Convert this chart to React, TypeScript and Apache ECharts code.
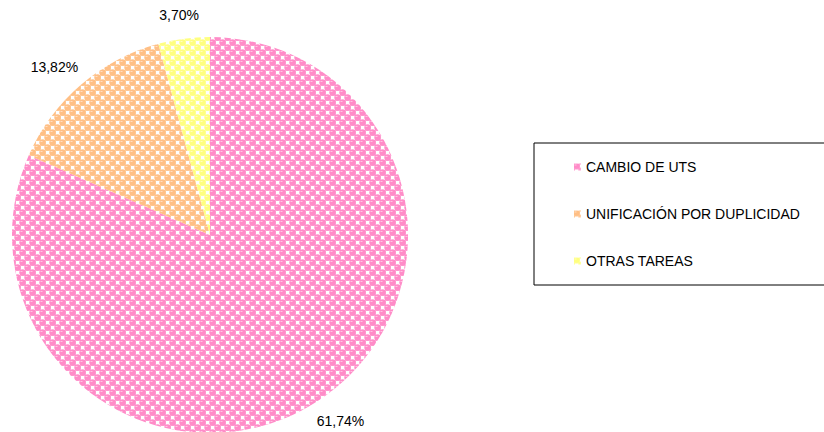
import React, { useEffect, useRef } from "react";
import * as echarts from "echarts";

const categories = ["CAMBIO DE UTS", "UNIFICACIÓN POR DUPLICIDAD", "OTRAS TAREAS"];
const sliceShares = [81.6, 14.2, 4.2];
// percentages printed next to the slices
const labelValues = [61.74, 13.82, 3.7];
const ballColors = ["#ff8cc8", "#ffbf85", "#ffff80"];
const groundColors = ["#ffaed8", "#ffd2a8", "#ffffb0"];

const PIE_CX = 210;
const PIE_CY = 235;
const FONT = "Liberation Sans, Arial, sans-serif";

function makePattern(ball: string, ground: string) {
  const S = 10;
  const c = document.createElement("canvas");
  c.width = S;
  c.height = S;
  const ctx = c.getContext("2d")!;
  ctx.fillStyle = ground;
  ctx.fillRect(0, 0, S, S);
  ctx.fillStyle = "#ffffff";
  ctx.fillRect(6, 1, 4, 4);
  ctx.fillRect(1, 6, 4, 4);
  const centers: [number, number][] = [];
  for (let dx = -S; dx <= S; dx += S)
    for (let dy = -S; dy <= S; dy += S) {
      centers.push([2.5 + dx, 2.5 + dy]);
      centers.push([7.5 + dx, 7.5 + dy]);
    }
  ctx.fillStyle = ball;
  centers.forEach(([x, y]) => {
    ctx.beginPath();
    ctx.arc(x, y, 3.2, 0, Math.PI * 2);
    ctx.fill();
  });
  ctx.fillStyle = "rgba(255,255,255,0.5)";
  centers.forEach(([x, y]) => {
    ctx.fillRect(x - 2, y - 1.5, 2, 1);
  });
  return { image: c, repeat: "repeat" as const };
}

export default function App() {
  const ref = useRef<HTMLDivElement>(null);
  useEffect(() => {
    if (!ref.current) return;
    const chart = echarts.init(ref.current, null, { renderer: "svg" });
    const data = categories.map((name, i) => ({
      name,
      value: sliceShares[i],
      itemStyle: { color: makePattern(ballColors[i], groundColors[i]) as any },
    }));
    chart.setOption({
      animation: false,
      backgroundColor: "#ffffff",
      legend: {
        orient: "vertical",
        left: 534,
        top: 143,
        data: categories,
        icon: "rect",
        itemWidth: 7,
        itemHeight: 7,
        itemGap: 31,
        padding: [16, 25, 16, 40],
        borderColor: "#000000",
        borderWidth: 1,
        selectedMode: false,
        textStyle: {
          fontFamily: FONT,
          fontSize: 14,
          color: "#000000",
          lineHeight: 16,
        },
      },
      series: [
        {
          type: "pie",
          center: [PIE_CX, PIE_CY],
          radius: 198,
          startAngle: 90,
          clockwise: true,
          avoidLabelOverlap: false,
          silent: true,
          itemStyle: { borderWidth: 0 },
          label: {
            show: true,
            position: "outside",
            distanceToLabelLine: 0,
            fontFamily: FONT,
            fontSize: 14,
            color: "#000000",
            formatter: (p: any) =>
              labelValues[p.dataIndex].toFixed(2).replace(".", ",") + "%",
          },
          labelLine: { show: false, length: 17, length2: 0 },
          labelLayout: (p: any) => {
            const r = p.labelRect;
            const leftSide = r.x + r.width / 2 < PIE_CX;
            const ax = leftSide ? r.x + r.width : r.x;
            const ay = r.y + r.height / 2;
            const vx = ax - PIE_CX;
            const vy = ay - PIE_CY;
            const d = Math.hypot(vx, vy) || 1;
            return {
              x: ax + (vx / d) * (r.width / 2),
              y: ay + (vy / d) * (r.height / 2),
              align: "center",
              verticalAlign: "middle",
            };
          },
          emphasis: { disabled: true },
          data,
        },
      ],
    });
    return () => chart.dispose();
  }, []);
  return (
    <div
      ref={ref}
      style={{ position: "fixed", left: 0, top: 0, width: 824, height: 432 }}
    />
  );
}
